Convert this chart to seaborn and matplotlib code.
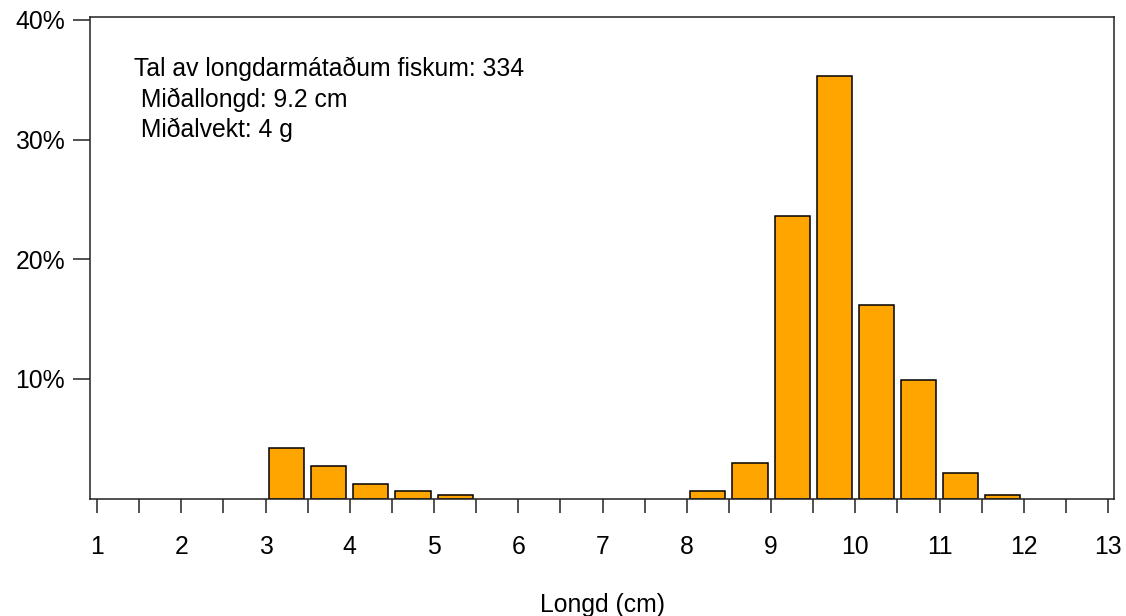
import matplotlib
matplotlib.use("Agg")
import matplotlib.pyplot as plt
import seaborn as sns
import numpy as np
import pandas as pd
from matplotlib.ticker import FixedLocator

# Length bins (lower edges, cm, 0.5 cm wide) and number of fish per bin
bin_start = [3.0, 3.5, 4.0, 4.5, 5.0, 8.0, 8.5, 9.0, 9.5, 10.0, 10.5, 11.0, 11.5]
counts = [14, 9, 4, 2, 1, 2, 10, 79, 118, 54, 33, 7, 1]
n_total = 334
info_lines = ["Tal av longdarmátaðum fiskum: 334", " Miðallongd: 9.2 cm", " Miðalvekt: 4 g"]
x_labels = list(range(1, 14))
y_ticks = [10, 20, 30, 40]
x_title = "Longd (cm)"

df = pd.DataFrame({
    "mid": [b + 0.25 for b in bin_start],
    "pct": [100.0 * c / n_total for c in counts],
})

sns.set_style("white")
plt.rcParams["font.family"] = ["Liberation Sans", "DejaVu Sans"]
plt.rcParams["text.color"] = "black"
plt.rcParams["xtick.color"] = "black"
plt.rcParams["ytick.color"] = "black"

W, H = 1126, 616
FS = 17.8
fig = plt.figure(figsize=(W / 100, H / 100), dpi=100)
ax = fig.add_axes([90 / W, 1 - 498.5 / H, (1114 - 90) / W, (498.5 - 17) / H])

sns.barplot(data=df, x="mid", y="pct", native_scale=True, width=0.833,
            color="#FFA500", saturation=1, edgecolor="black", linewidth=1.1,
            errorbar=None, ax=ax)

ax.set_xlim(0.917, 13.07)
ax.set_ylim(0, 40.25)

for s in ax.spines.values():
    s.set_visible(True)
    s.set_color("#222222")
    s.set_linewidth(1.1)

ax.xaxis.set_major_locator(FixedLocator(x_labels))
ax.set_xticklabels([str(v) for v in x_labels])
ax.xaxis.set_minor_locator(FixedLocator([v + 0.5 for v in x_labels[:-1]]))
ax.tick_params(axis="x", which="both", direction="out", length=10, width=1.1,
               color="#222222", bottom=True)
ax.tick_params(axis="x", which="major", pad=16, labelsize=FS, labelcolor="black")

ax.yaxis.set_major_locator(FixedLocator(y_ticks))
ax.set_yticklabels([f"{v}%" for v in y_ticks])
ax.tick_params(axis="y", direction="out", length=12, width=1.1, color="#222222",
               left=True, pad=6, labelsize=FS, labelcolor="black")

ax.set_xlabel("")
ax.set_ylabel("")
fig.text(602.5 / W, 1 - 605 / H, x_title, ha="center", va="center", fontsize=FS,
         color="black")

fig.text(134 / W, 1 - 57 / H, "\n".join(info_lines), ha="left", va="top",
         fontsize=FS, linespacing=1.3, color="black")

fig.savefig("out.png", dpi=100, facecolor="white")
